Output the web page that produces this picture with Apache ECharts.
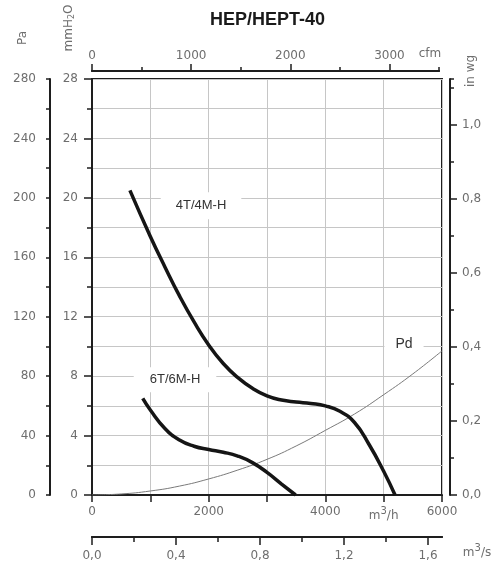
<!DOCTYPE html>
<html><head><meta charset="utf-8">
<script src="https://cdn.jsdelivr.net/npm/echarts@6/dist/echarts.min.js"></script>
<style>html,body{margin:0;padding:0;background:#fff}#c{width:499px;height:568px}</style>
</head><body><div id="c"></div>
<script>
// ---- data (flow in m3/h, pressure in Pa) ----
const flow4T = [650, 1000, 1250, 1500, 1750, 2000, 2250, 2500, 2750, 3000, 3250, 3500, 3750, 4000, 4250, 4500, 4750, 5000, 5195];
const pres4T = [205, 174, 153.5, 134, 116.5, 101, 88.5, 79, 71.8, 66.7, 63.9, 62.6, 61.6, 60, 56.3, 48.8, 34, 16, 0];
const flow6T = [870, 1000, 1250, 1500, 1750, 2000, 2250, 2500, 2750, 3000, 3250, 3490];
const pres6T = [65, 57.2, 44.8, 37, 32.8, 30.6, 28.8, 26.2, 21.8, 15.2, 7.4, 0];
const flowPd = [0, 500, 1000, 1500, 2000, 2500, 3000, 3500, 4000, 4500, 5000, 5500, 6000];
const presPd = [0, 0.7, 2.7, 6, 10.8, 16.8, 24, 33, 43.5, 54.5, 67.5, 81.5, 97];
// curve label anchors [m3/h, Pa]
const label4T = [1869, 194.7];
const label6T = [1423, 77.5];
const labelPd = [5349, 101.4];
// axis ticks / labels
const paMajor = [0, 40, 80, 120, 160, 200, 240, 280];
const mmMajor = [0, 4, 8, 12, 16, 20, 24, 28];
const inwgMajor = [0, 0.2, 0.4, 0.6, 0.8, 1.0];
const m3hLabels = [0, 2000, 4000, 5000, 6000];
const m3sMajor = [0, 0.4, 0.8, 1.2, 1.6];
const m3sMinor = [0.2, 0.6, 1.0, 1.4];
const cfmMajor = [0, 1000, 2000, 3000];
const cfmMinor = [500, 1500, 2500, 3500];

const dark = '#1e1e1e', gray = '#6e6e6e', gridC = '#c6c6c6';
const lf = { color: gray, fontFamily: 'DejaVu Sans', fontSize: 12 };
const comma = v => v.toFixed(1).replace('.', ',');
const plain = v => String(v);
const none = { show: false };
const line = { show: true, onZero: false, lineStyle: { color: dark, width: 2 } };
const tick = (len, vals) => { const t = { show: true, length: len, lineStyle: { color: dark, width: 1.5 } }; if (vals) t.customValues = vals; return t; };
const pairs = (a, b) => a.map((v, i) => [v, b[i]]);
const lblStyle = (fs) => ({ show: true, position: 'inside', backgroundColor: '#fff', color: '#333', fontFamily: 'Liberation Sans', fontSize: fs });

const chart = echarts.init(document.getElementById('c'), null, { renderer: 'canvas' });
chart.setOption({
  animation: false,
  title: { text: 'HEP/HEPT-40', left: 205, top: 6, textStyle: { fontFamily: 'Liberation Sans', fontWeight: 'bold', fontSize: 18, color: '#1a1a1a' } },
  grid: [
    { left: 92, top: 79, width: 350, height: 416, show: true, borderColor: dark, borderWidth: 2 },
    { left: 92, top: 501, width: 350, height: 36 },
    { left: 92, top: 71, width: 347, height: 4 }
  ],
  xAxis: [
    { gridIndex: 0, type: 'value', position: 'bottom', min: 0, max: 6000, interval: 1000, axisLine: line, axisTick: tick(7),
      splitLine: { show: true, lineStyle: { color: gridC, width: 1 } },
      axisLabel: Object.assign({}, lf, { margin: 11, customValues: m3hLabels,
        formatter: v => v === 5000 ? '{a|m}{b|3}{a|/h}' : String(v),
        rich: { a: Object.assign({}, lf), b: Object.assign({}, lf, { fontSize: 10, padding: [0, 0, 9, 0] }) } }) },
    { gridIndex: 1, type: 'value', position: 'bottom', min: 0, max: 6000 / 3600, axisLine: line, axisTick: tick(5, m3sMinor), axisLabel: none, splitLine: none },
    { gridIndex: 1, type: 'value', position: 'bottom', min: 0, max: 6000 / 3600, axisLine: line, axisTick: tick(8, m3sMajor), splitLine: none,
      axisLabel: Object.assign({}, lf, { margin: 13, customValues: m3sMajor, formatter: comma }) },
    { gridIndex: 2, type: 'value', position: 'top', min: 0, max: 3500, axisLine: line, axisTick: tick(4, cfmMinor), axisLabel: none, splitLine: none },
    { gridIndex: 2, type: 'value', position: 'top', min: 0, max: 3500, axisLine: line, axisTick: tick(7, cfmMajor), splitLine: none,
      axisLabel: Object.assign({}, lf, { margin: 9, customValues: cfmMajor, formatter: plain }) }
  ],
  yAxis: [
    { gridIndex: 0, type: 'value', position: 'left', offset: 42, min: 0, max: 280, interval: 20, axisLine: line, axisTick: tick(4), splitLine: none,
      axisLabel: Object.assign({}, lf, { margin: 14, customValues: paMajor, formatter: plain }) },
    { gridIndex: 0, type: 'value', position: 'left', offset: 42, min: 0, max: 280, axisLine: none, axisTick: tick(7, paMajor), splitLine: none, axisLabel: none },
    { gridIndex: 0, type: 'value', position: 'left', offset: 0, min: 0, max: 28, interval: 2, axisLine: line, axisTick: tick(5),
      splitLine: { show: true, lineStyle: { color: gridC, width: 1 } },
      axisLabel: Object.assign({}, lf, { margin: 14, customValues: mmMajor, formatter: plain }) },
    { gridIndex: 0, type: 'value', position: 'left', offset: 0, min: 0, max: 28, axisLine: none, axisTick: tick(8, mmMajor), splitLine: none, axisLabel: none },
    { gridIndex: 0, type: 'value', position: 'right', offset: 8, min: 0, max: 280 / 249.089, interval: 0.1, axisLine: line, axisTick: tick(4), splitLine: none,
      axisLabel: Object.assign({}, lf, { margin: 12, customValues: inwgMajor, formatter: comma }) },
    { gridIndex: 0, type: 'value', position: 'right', offset: 8, min: 0, max: 280 / 249.089, axisLine: none, axisTick: tick(7, inwgMajor), splitLine: none, axisLabel: none },
    { gridIndex: 1, type: 'value', show: false, min: 0, max: 1 },
    { gridIndex: 2, type: 'value', show: false, min: 0, max: 1 }
  ],
  series: [
    { name: 'Pd', type: 'line', xAxisIndex: 0, yAxisIndex: 0, data: pairs(flowPd, presPd), smooth: true, showSymbol: false, silent: true,
      lineStyle: { color: '#7a7a7a', width: 1 },
      markPoint: { symbol: 'rect', symbolSize: 1, itemStyle: { color: 'rgba(0,0,0,0)' }, silent: true,
        data: [{ coord: labelPd, label: Object.assign(lblStyle(14), { formatter: 'Pd', padding: [9, 11, 8, 11] }) }] } },
    { name: '4T/4M-H', type: 'line', xAxisIndex: 0, yAxisIndex: 0, data: pairs(flow4T, pres4T), smooth: true, showSymbol: false, silent: true,
      lineStyle: { color: '#151515', width: 3.5 },
      markPoint: { symbol: 'rect', symbolSize: 1, itemStyle: { color: 'rgba(0,0,0,0)' }, silent: true,
        data: [{ coord: label4T, label: Object.assign(lblStyle(13), { formatter: '4T/4M-H', padding: [7, 15, 7, 15] }) }] } },
    { name: '6T/6M-H', type: 'line', xAxisIndex: 0, yAxisIndex: 0, data: pairs(flow6T, pres6T), smooth: true, showSymbol: false, silent: true,
      lineStyle: { color: '#151515', width: 3.5 },
      markPoint: { symbol: 'rect', symbolSize: 1, itemStyle: { color: 'rgba(0,0,0,0)' }, silent: true,
        data: [{ coord: label6T, label: Object.assign(lblStyle(13), { formatter: '6T/6M-H', padding: [6, 16, 6, 16] }) }] } }
  ],
  graphic: [
    { type: 'text', x: 23, y: 38, rotation: Math.PI / 2, style: { text: 'Pa', fill: gray, font: '12px "DejaVu Sans"', align: 'center', verticalAlign: 'middle' } },
    { type: 'text', x: 69, y: 28, rotation: Math.PI / 2, style: { text: '{a|mmH}{b|2}{a|O}', rich: { a: { fill: gray, fontFamily: 'DejaVu Sans', fontSize: 12 }, b: { fill: gray, fontFamily: 'DejaVu Sans', fontSize: 8, padding: [6, 0, 0, 0] } }, align: 'center', verticalAlign: 'middle' } },
    { type: 'text', x: 471, y: 71, rotation: Math.PI / 2, style: { text: 'in wg', fill: gray, font: '12px "DejaVu Sans"', align: 'center', verticalAlign: 'middle' } },
    { type: 'text', x: 430, y: 54, style: { text: 'cfm', fill: gray, font: '12px "DejaVu Sans"', align: 'center', verticalAlign: 'middle' } },
    { type: 'text', x: 477, y: 553, style: { text: '{a|m}{b|3}{a|/s}', rich: { a: { fill: gray, fontFamily: 'DejaVu Sans', fontSize: 12 }, b: { fill: gray, fontFamily: 'DejaVu Sans', fontSize: 10, padding: [0, 0, 9, 0] } }, align: 'center', verticalAlign: 'middle' } }
  ]
});
</script></body></html>
